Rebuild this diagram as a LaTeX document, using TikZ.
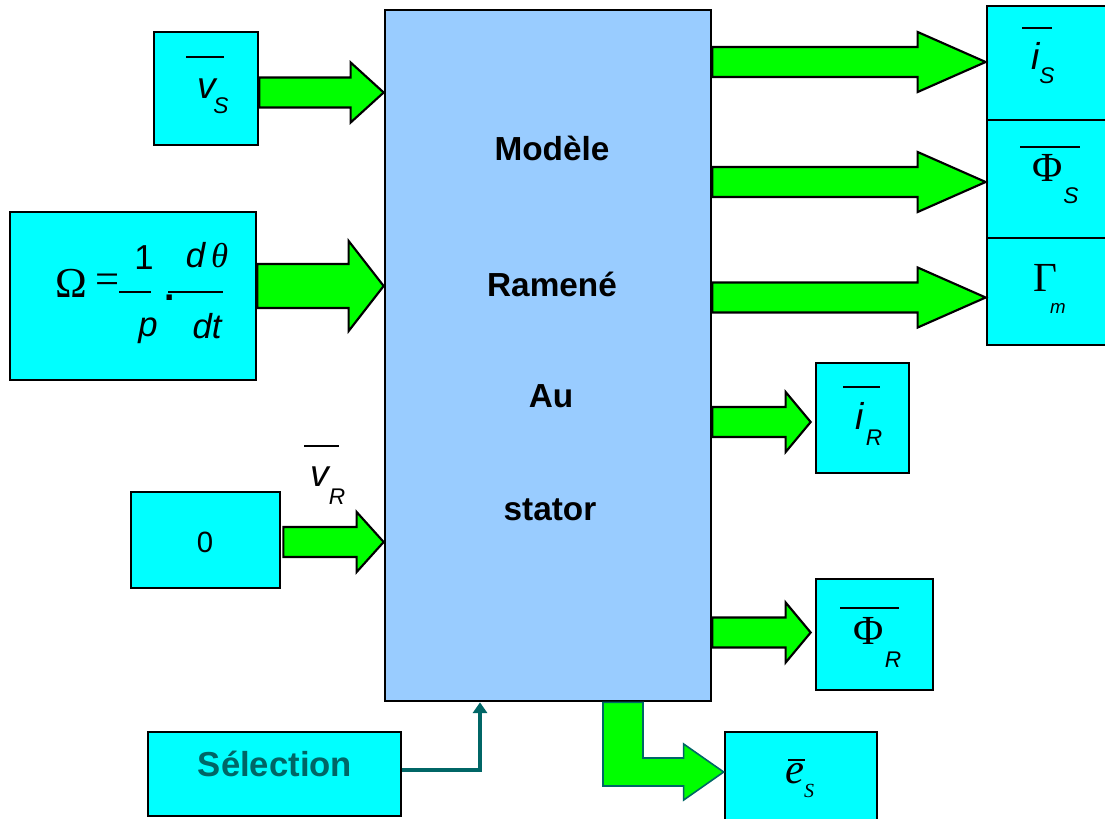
\documentclass[tikz,border=0pt]{standalone}
\usepackage{fontspec}
\setmainfont{Liberation Sans}
\newfontfamily\tms{Liberation Serif}
\usetikzlibrary{calc,fit,positioning,arrows.meta}
\definecolor{boxcyan}{RGB}{0,255,255}
\definecolor{mainblue}{RGB}{153,204,255}
\definecolor{arrowgreen}{RGB}{0,255,0}
\definecolor{selteal}{RGB}{0,102,102}

% block arrow: from, to, head length, shaft half width, head half width
\newcommand{\fatarrow}[5]{%
  \draw[fatarrow] ($(#1)+(0,-#4)$) -- ($(#2)+(-#3,-#4)$) -- ($(#2)+(-#3,-#5)$) -- (#2)
    -- ($(#2)+(-#3,#5)$) -- ($(#2)+(-#3,#4)$) -- ($(#1)+(0,#4)$) -- cycle;}

\begin{document}
\begin{tikzpicture}[x=0.75pt, y=-0.75pt,
  sigbox/.style={draw=black, line width=2pt, fill=boxcyan, inner sep=0pt},
  mainbox/.style={draw=black, line width=2pt, fill=mainblue, inner sep=0pt},
  fatarrow/.style={draw=black, line width=1.6pt, fill=arrowgreen, line join=miter},
  barline/.style={line width=1.2pt},
  title/.style={inner sep=0pt, font=\fontsize{25}{27}\selectfont\bfseries},
  sym/.style={inner sep=0pt, font=\fontsize{28}{30}\selectfont\itshape},
  gsym/.style={inner sep=0pt, font=\fontsize{31}{33}\selectfont\tms},
  sub/.style={inner sep=0pt, font=\fontsize{17}{19}\selectfont\itshape},
  frac/.style={inner sep=0pt, font=\fontsize{26}{28}\selectfont},
  fracit/.style={inner sep=0pt, font=\fontsize{26}{28}\selectfont\itshape}]

\useasboundingbox (0,0) rectangle (1105,818);

% === Main block ===
\node[mainbox, fit={(385,10) (711,701)}] (main) {};
\node[title] (t1) at (552,148) {Modèle};
\node[title] (t2) at (552,284) {Ramené};
\node[title] (t3) at (551,396) {Au};
\node[title] (t4) at (550,510) {stator};

% === Inputs ===
\node[sigbox, fit={(154,32) (258,145)}] (vs) {};
\node[sigbox, fit={(10,212) (256,380)}] (om) {};
\node[sigbox, fit={(131,492) (280,588)}] (zero) {};
\node[sigbox, fit={(148,732) (401,816)}] (sel) {};

\node[sym] (vs-v) at (207,89) {v};
\node[sub] (vs-s) at (221,106) {S};
\draw[barline] (186,57) -- (224,57);

\node[gsym, font=\fontsize{32}{34}\selectfont\tms] (om-o) at (71,283) {Ω};
\node[gsym, font=\fontsize{32}{34}\selectfont\tms] (om-eq) at (108,284) {=};
\node[frac] (om-1) at (144,258) {1};
\node[fracit] (om-p) at (148,331) {p};
\node[frac, font=\fontsize{28}{30}\selectfont\bfseries] (om-dot) at (170,298) {.};
\node[fracit] (om-dth) at (207,255) {d\,{\tms θ}};
\node[fracit] (om-dt) at (207,326) {dt};
\draw[barline] (119,292) -- (151,292);
\draw[barline] (168,292) -- (223,292);

\node[frac, font=\fontsize{22}{24}\selectfont] (zero-t) at (205,542) {0};
\node[sym] (vr-v) at (320,477) {v};
\node[sub] (vr-r) at (337,497) {R};
\draw[barline] (304,446) -- (339,446);

\node[title, text=selteal, font=\fontsize{26}{28}\selectfont\bfseries] (sel-t) at (275,764) {Sélection};

% === Outputs ===
\node[sigbox, fit={(987,6) (1125,120)}] (is) {};
\node[sigbox, fit={(987,120) (1125,238)}] (phis) {};
\node[sigbox, fit={(987,238) (1125,345)}] (gam) {};
\node[sigbox, fit={(816,363) (909,473)}] (ir) {};
\node[sigbox, fit={(816,579) (933,690)}] (phir) {};
\node[sigbox, fit={(725,732) (877,830)}] (es) {};

\node[sym] (is-i) at (1036,56) {i};
\node[sub] (is-s) at (1047,76) {S};
\draw[barline] (1022,28) -- (1052,28);

\node[gsym] (phis-p) at (1048,168) {Φ};
\node[sub] (phis-s) at (1071,196) {S};
\draw[barline] (1020,147) -- (1080,147);

\node[gsym] (gam-g) at (1045,278) {Γ};
\node[sub, font=\fontsize{14}{16}\selectfont\itshape] (gam-m) at (1058,308) {m};

\node[sym] (ir-i) at (860,416) {i};
\node[sub] (ir-r) at (874,438) {R};
\draw[barline] (843,387) -- (880,387);

\node[gsym] (phir-p) at (869,631) {Φ};
\node[sub] (phir-r) at (893,660) {R};
\draw[barline] (840,608) -- (899,608);

\node[gsym, font=\fontsize{32}{34}\selectfont\tms\itshape] (es-e) at (795,774) {e};
\node[sub, font=\fontsize{15}{17}\selectfont\tms\itshape] (es-s) at (809,791) {S};
\draw[barline] (788,760) -- (805,760);

% === Block arrows ===
\coordinate (vs-out) at ($(vs.east)+(0,4)$);
\coordinate (vs-in) at (main.west |- vs-out);
\fatarrow{vs-out}{vs-in}{33}{15}{30}
\coordinate (om-out) at ($(om.east)+(0,-10)$);
\coordinate (om-in) at (main.west |- om-out);
\fatarrow{om-out}{om-in}{35}{22}{45}
\coordinate (zero-out) at ($(zero.east)+(2,2)$);
\coordinate (zero-in) at (main.west |- zero-out);
\fatarrow{zero-out}{zero-in}{27}{15}{30}

\coordinate (is-in) at ($(is.west)+(0,-1)$);
\coordinate (is-out) at (main.east |- is-in);
\fatarrow{is-out}{is-in}{68}{15}{30}
\coordinate (phis-in) at ($(phis.west)+(0,3)$);
\coordinate (phis-out) at (main.east |- phis-in);
\fatarrow{phis-out}{phis-in}{68}{15}{30}
\coordinate (gam-in) at ($(gam.west)+(0,6)$);
\coordinate (gam-out) at (main.east |- gam-in);
\fatarrow{gam-out}{gam-in}{68}{15}{30}
\coordinate (ir-in) at ($(ir.west)+(-4,4)$);
\coordinate (ir-out) at (main.east |- ir-in);
\fatarrow{ir-out}{ir-in}{25}{15}{30}
\coordinate (phir-in) at ($(phir.west)+(-4,-2)$);
\coordinate (phir-out) at (main.east |- phir-in);
\fatarrow{phir-out}{phir-in}{25}{15}{30}

% L-shaped arrow towards e_S
\coordinate (es-out) at ($(main.south)+(75,0)$);
\coordinate (es-tip) at ($(es.west)+(0,-9)$);
\draw[fatarrow, draw=selteal, line width=1.2pt] ($(es-out)+(-20,0)$) |- ($(es-tip)+(-40,14)$)
  -- ++(0,14) -- (es-tip) -- ($(es-tip)+(-40,-28)$) -- ++(0,14) -| ($(es-out)+(20,0)$) -- cycle;

% selection line
\coordinate (sel-in) at ($(main.south)+(-68,0)$);
\draw[selteal, line width=3.6pt, -{Triangle[length=8pt,width=10.5pt]}] ($(sel.east)+(0,-4)$) -| (sel-in);

\end{tikzpicture}
\end{document}
